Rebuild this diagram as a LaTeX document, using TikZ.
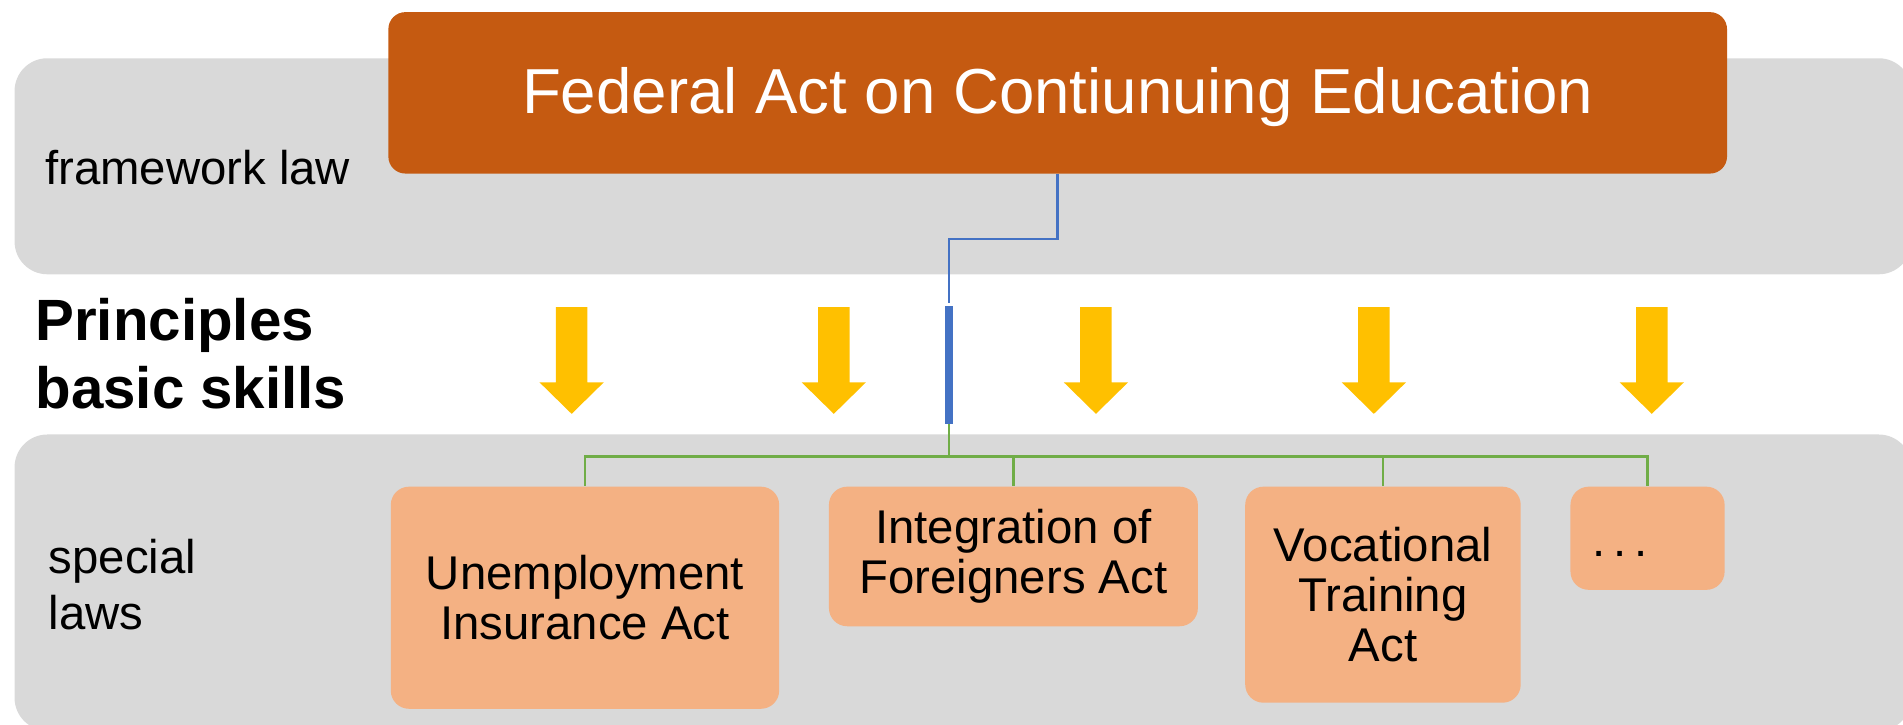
\documentclass[tikz,border=0pt]{standalone}
\usepackage{fontspec}
\setmainfont{Liberation Sans}
\definecolor{bandgray}{HTML}{D9D9D9}
\definecolor{darkorange}{HTML}{C55A11}
\definecolor{lightorange}{HTML}{F4B183}
\definecolor{arrowyellow}{HTML}{FFC000}
\definecolor{lineblue}{HTML}{4472C4}
\definecolor{linegreen}{HTML}{70AD47}
\begin{document}
\begin{tikzpicture}[x=1pt,y=-1pt,
  band/.style={fill=bandgray, draw=none, rounded corners=27pt, inner sep=0pt},
  fedbox/.style={fill=darkorange, draw=none, rounded corners=14pt, inner sep=0pt,
    text=white, font=\fontsize{52.4}{56}\selectfont},
  lawbox/.style={fill=lightorange, draw=none, rounded corners=15pt, inner sep=0pt,
    align=center, font=\fontsize{39}{41.5}\selectfont},
  lbl/.style={inner sep=0pt, font=\fontsize{39}{46.6}\selectfont},
  bluelink/.style={draw=lineblue, line width=2pt},
  greenlink/.style={draw=linegreen, line width=2pt},
  downarrow/.style={fill=arrowyellow, draw=none}
]
\useasboundingbox (0,0) rectangle (1568,597);

% bands
\node[band, minimum width=1563pt, minimum height=178pt] (topband) at (793.5,137) {};
\node[band, minimum width=1563pt, minimum height=244pt] (botband) at (793.5,480) {};

% band labels
\node[lbl, anchor=base west] (fw) at (37,152) {framework law};
\node[lbl, anchor=north west, align=left] (sp) at (40,444) {special\\laws};
\node[inner sep=0pt, anchor=north west, align=left,
  font=\fontsize{48}{56}\selectfont\bfseries] (pr) at (29,245.6) {Principles\\basic skills};

% top box
\node[fedbox, minimum width=1103pt, minimum height=133pt,
  text height=34pt, text depth=0pt] (fed) at (871.5,76.5) {Federal Act on Contiunuing Education};

% special law boxes
\node[lawbox, minimum width=320pt, minimum height=183pt] (ui) at (482,492.5) {Unemployment\\Insurance Act};
\node[lawbox, minimum width=304pt, minimum height=115pt] (ifa) at (835,458.5) {Integration of\\Foreigners Act};
\node[lawbox, minimum width=227pt, minimum height=178pt] (vta) at (1139.5,490) {Vocational\\Training\\Act};
\node[lawbox, minimum width=127pt, minimum height=85pt] (dots) at (1357.5,443.5) {};
\node[lbl, anchor=base west] (dotstxt) at (1312,458.7) {.\kern6.5pt.\kern6.5pt.};

% yellow arrows
\foreach \x in {471,687,903,1132,1361}{
  \fill[downarrow] (\x-13,253) -- (\x+13,253) -- (\x+13,315) -- (\x+26.5,315)
    -- (\x,341) -- (\x-26.5,315) -- (\x-13,315) -- cycle;
}

% blue connector and bar
\node[fill=lineblue, draw=none, inner sep=0pt, minimum width=6.5pt, minimum height=97pt] (bar) at (782,300.5) {};
\coordinate (bend) at (782,197);
\draw[bluelink] (fed.south) |- (bend) -- ([yshift=2pt]bar.north);

% green tree
\coordinate (hub) at (782,376);
\draw[greenlink] (bar.south) -- (hub);
\draw[greenlink] (hub) -| (ui.north);
\draw[greenlink] (hub) -| (ifa.north);
\draw[greenlink] (hub) -| (vta.north);
\draw[greenlink] (hub) -| (dots.north);
\end{tikzpicture}
\end{document}
